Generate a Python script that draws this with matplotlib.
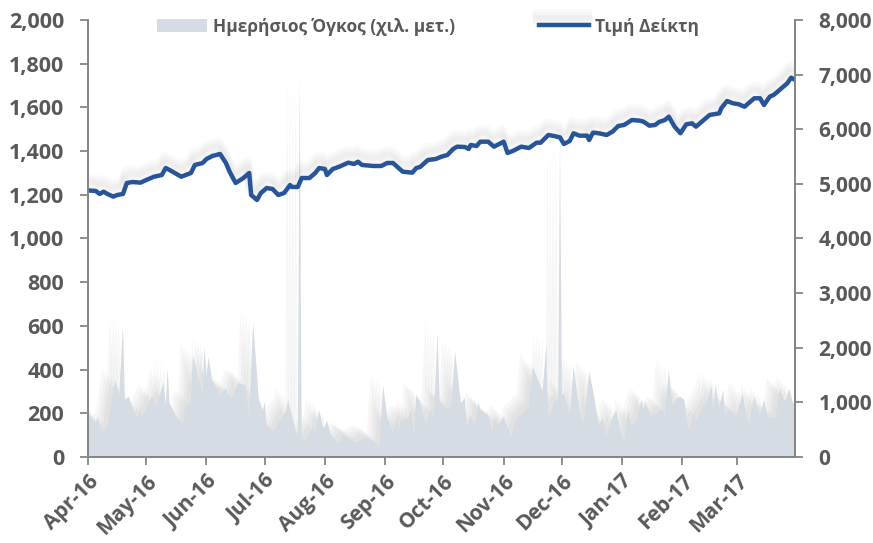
import pandas as pd
import matplotlib
matplotlib.use("Agg")
import matplotlib.pyplot as plt
import matplotlib.dates as mdates
import matplotlib.patheffects as pe
from matplotlib.ticker import FuncFormatter, MultipleLocator

plt.rcParams["font.family"] = ["Open Sans", "DejaVu Sans"]

start = pd.Timestamp("2016-04-01")

# Τιμή Δείκτη (right axis) - day offsets from 2016-04-01
price_day = [0, 4, 6, 8, 10, 13, 15, 18, 20, 23, 27, 30, 34, 38, 40, 42, 48, 53, 55, 59,
             61, 64, 68, 71, 73, 76, 80, 83, 84, 87, 89, 92, 95, 98, 101, 104, 105, 108, 110, 114,
             117, 119, 122, 123, 126, 129, 134, 137, 139, 141, 147, 151, 154, 157, 162, 167, 169, 171, 175, 179,
             182, 185, 188, 190, 194, 196, 197, 200, 202, 206, 209, 214, 216, 219, 223, 227, 231, 233, 237, 240,
             243, 245, 248, 250, 253, 257, 258, 260, 263, 267, 270, 273, 276, 280, 284, 286, 289, 292, 294, 297,
             299, 302, 305, 308, 311, 313, 317, 320, 325, 326, 329, 332, 335, 338, 340, 343, 346, 348, 351, 353,
             356, 357, 360, 362, 364]
price_val = [4880, 4870, 4815, 4857, 4815, 4766, 4796, 4815, 5016, 5034, 5022, 5071, 5131, 5162, 5290, 5254, 5131, 5199, 5346, 5382,
             5455, 5510, 5547, 5382, 5217, 5016, 5107, 5199, 4796, 4705, 4833, 4924, 4906, 4796, 4833, 4979, 4943, 4943, 5107, 5107,
             5199, 5290, 5272, 5162, 5272, 5309, 5388, 5364, 5406, 5346, 5327, 5327, 5382, 5382, 5223, 5205, 5290, 5309, 5437, 5455,
             5498, 5529, 5638, 5681, 5675, 5638, 5712, 5693, 5772, 5772, 5681, 5772, 5565, 5607, 5681, 5657, 5754, 5754, 5895, 5876,
             5850, 5730, 5785, 5926, 5882, 5882, 5803, 5938, 5926, 5895, 5955, 6060, 6078, 6169, 6157, 6139, 6066, 6078, 6133, 6169,
             6230, 6047, 5926, 6090, 6108, 6047, 6169, 6261, 6291, 6383, 6517, 6475, 6457, 6412, 6475, 6567, 6567, 6444, 6597, 6628,
             6718, 6750, 6841, 6944, 6902]

# Ημερήσιος Όγκος (left axis) - day offsets from 2016-04-01
vol_day = [0, 4, 5, 7, 10, 14, 16, 18, 19, 21, 25, 27, 28, 33, 35, 39, 40, 41, 42, 45,
           49, 50, 53, 54, 58, 59, 60, 61, 62, 64, 67, 68, 71, 72, 74, 77, 81, 83, 85, 88,
           90, 91, 92, 96, 98, 102, 103, 108, 109, 110, 112, 116, 117, 119, 121, 122, 123, 125, 129, 131,
           134, 138, 142, 146, 148, 150, 152, 154, 157, 159, 160, 161, 165, 166, 168, 169, 171, 174, 176, 178,
           180, 181, 183, 185, 187, 189, 192, 194, 195, 197, 199, 201, 202, 206, 208, 209, 211, 214, 215, 218,
           220, 223, 225, 227, 229, 232, 234, 236, 237, 240, 241, 242, 243, 244, 245, 248, 250, 253, 255, 258,
           260, 263, 265, 267, 269, 272, 274, 276, 278, 280, 282, 285, 286, 287, 290, 293, 294, 296, 297, 299,
           301, 303, 305, 307, 309, 312, 313, 316, 319, 321, 322, 323, 325, 327, 328, 330, 334, 337, 340, 343,
           346, 348, 350, 354, 356, 359, 361, 363, 364]
vol_val = [207, 155, 185, 119, 139, 352, 276, 604, 261, 276, 178, 207, 185, 276, 224, 345, 230, 407, 247, 192,
           146, 230, 247, 467, 322, 270, 505, 367, 459, 352, 307, 284, 316, 284, 270, 339, 329, 178, 619, 261,
           215, 253, 146, 116, 155, 215, 261, 87, 1750, 80, 78, 142, 101, 215, 137, 139, 169, 101, 65, 101,
           87, 65, 87, 78, 63, 50, 329, 185, 110, 178, 110, 169, 178, 215, 101, 284, 253, 146, 215, 185,
           567, 261, 230, 223, 230, 482, 247, 270, 133, 192, 133, 253, 215, 192, 110, 178, 139, 185, 162, 93,
           169, 192, 215, 230, 413, 345, 299, 520, 169, 250, 261, 250, 1450, 280, 293, 192, 413, 215, 139, 390,
           307, 146, 178, 93, 162, 215, 124, 55, 215, 139, 162, 261, 215, 253, 178, 201, 215, 215, 185, 398,
           230, 270, 275, 261, 124, 201, 169, 215, 261, 329, 192, 329, 230, 307, 185, 215, 192, 291, 139, 276,
           185, 261, 185, 178, 307, 253, 314, 245, 260]

price_dates = start + pd.to_timedelta(price_day, unit="D")
vol_dates = start + pd.to_timedelta(vol_day, unit="D")

text_color = "#595959"
spine_color = "#868686"
area_color = "#D6DCE4"
line_color = "#285597"

fig = plt.figure(figsize=(8.73, 5.43), dpi=100)
ax = fig.add_axes([0.1008, 0.1584, 0.8099, 0.8048])
ax2 = ax.twinx()

area = ax.fill_between(vol_dates, 0, vol_val, color=area_color, lw=0,
                       label="Ημερήσιος Όγκος (χιλ. μετ.)")
# soft shadow, built from a few faint offset copies
shadow = [pe.SimplePatchShadow(offset=(dx, dy), shadow_rgbFace="#707070", alpha=0.05)
          for dx, dy in [(-3, 3), (-5, 5), (-7, 7), (-9, 9)]]
area.set_path_effects(shadow + [pe.Normal()])

(line,) = ax2.plot(price_dates, price_val, color=line_color, lw=3.2,
                   label="Τιμή Δείκτη", solid_joinstyle="round")
line_shadow = [pe.SimpleLineShadow(offset=(-1, dy), shadow_color="#808080", alpha=0.04, linewidth=6)
               for dy in (3, 5, 7, 9)]
line.set_path_effects(line_shadow + [pe.Normal()])

ax.set_xlim(start, pd.Timestamp("2017-03-31"))
ax.set_ylim(0, 2000)
ax2.set_ylim(0, 8000)
ax.yaxis.set_major_locator(MultipleLocator(200))
ax2.yaxis.set_major_locator(MultipleLocator(1000))
fmt = FuncFormatter(lambda v, p: f"{int(v):,}")
ax.yaxis.set_major_formatter(fmt)
ax2.yaxis.set_major_formatter(fmt)

ax.xaxis.set_major_locator(mdates.MonthLocator())
ax.xaxis.set_major_formatter(mdates.DateFormatter("%b-%y"))

for a in (ax, ax2):
    for s in a.spines.values():
        s.set_color(spine_color)
        s.set_linewidth(1.3)
    a.spines["top"].set_visible(False)

ax.tick_params(axis="y", colors=spine_color, length=6, width=1.3, pad=11,
               labelsize=15.5, labelcolor=text_color)
ax2.tick_params(axis="y", colors=spine_color, length=6, width=1.3, pad=11,
                labelsize=15, labelcolor=text_color)
ax.tick_params(axis="x", colors=spine_color, length=6, width=1.3, pad=4,
               labelsize=15, labelcolor=text_color)
for lbl in ax.get_xticklabels():
    lbl.set_rotation(45)
    lbl.set_ha("right")
    lbl.set_rotation_mode("anchor")
for lbl in ax.get_yticklabels() + ax2.get_yticklabels() + ax.get_xticklabels():
    lbl.set_fontweight("bold")

ax.set_zorder(1)
ax2.set_zorder(2)
ax2.patch.set_visible(False)

leg = ax2.legend([area, line], ["Ημερήσιος Όγκος (χιλ. μετ.)", "Τιμή Δείκτη"],
                 loc="center", bbox_to_anchor=(0.481, 0.985), ncol=2, frameon=False,
                 handlelength=2.9, handletextpad=0.35, columnspacing=4.8,
                 prop={"weight": "bold", "size": 12.5})
for t in leg.get_texts():
    t.set_color(text_color)

fig.savefig("out.png", dpi=100)
